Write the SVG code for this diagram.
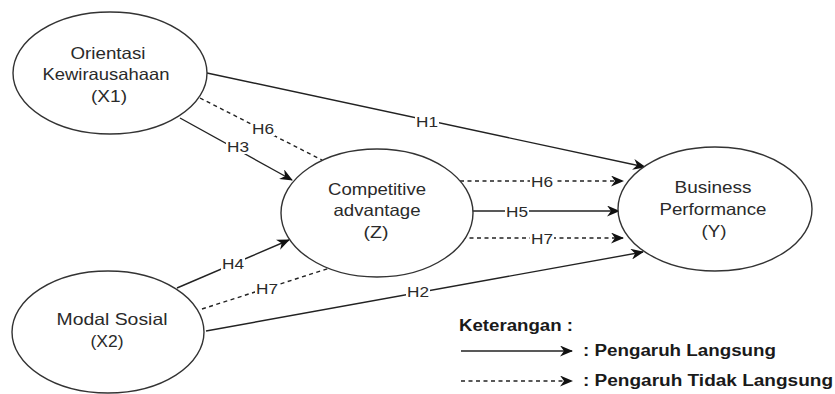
<svg xmlns="http://www.w3.org/2000/svg" width="835" height="394" viewBox="0 0 835 394">
<style>
.node ellipse{fill:#fff;stroke:#333;stroke-width:1.4}
.nt{font-family:"Liberation Sans",Arial,sans-serif;font-size:16.5px;fill:#2a2a2a;text-anchor:middle}
.el{font-family:"Liberation Sans",Arial,sans-serif;font-size:15px;fill:#2a2a2a;text-anchor:middle}
.lb{fill:#fff}
.ln{fill:none;stroke:#222;stroke-width:1.4}
.ds{stroke-dasharray:4 3.5}
.lg{font-family:"Liberation Sans",Arial,sans-serif;font-size:16px;font-weight:bold;fill:#1a1a1a}
</style>
<defs>
<marker id="ah" markerUnits="userSpaceOnUse" markerWidth="13" markerHeight="11" refX="12" refY="5.5" orient="auto" viewBox="0 0 13 11">
<path d="M0,0 L13,5.5 L0,11 L4,5.5 z" fill="#111"/>
</marker>
</defs>
<rect width="835" height="394" fill="#fff"/>
<g id="connectors">
<line class="ln" x1="207" y1="73" x2="645" y2="167" marker-end="url(#ah)"/>
<line class="ln ds" x1="200" y1="98" x2="322" y2="160"/>
<line class="ln" x1="180" y1="118" x2="292" y2="180" marker-end="url(#ah)"/>
<line class="ln ds" x1="460" y1="181" x2="623" y2="181" marker-end="url(#ah)"/>
<line class="ln" x1="473" y1="211" x2="619" y2="211" marker-end="url(#ah)"/>
<line class="ln ds" x1="462" y1="238" x2="623" y2="238" marker-end="url(#ah)"/>
<line class="ln" x1="206" y1="331" x2="643" y2="252" marker-end="url(#ah)"/>
<line class="ln" x1="177" y1="288" x2="289" y2="240" marker-end="url(#ah)"/>
<line class="ln ds" x1="202" y1="309" x2="333" y2="267"/>
<g id="edge-labels">
<rect class="lb" x="415" y="114" width="24" height="15"/><text class="el" x="427" y="127" textLength="22" lengthAdjust="spacingAndGlyphs">H1</text>
<rect class="lb" x="251" y="121" width="24" height="15"/><text class="el" x="263" y="134" textLength="22" lengthAdjust="spacingAndGlyphs">H6</text>
<rect class="lb" x="226" y="139" width="24" height="15"/><text class="el" x="238" y="152" textLength="22" lengthAdjust="spacingAndGlyphs">H3</text>
<rect class="lb" x="530" y="174" width="24" height="15"/><text class="el" x="542" y="187" textLength="22" lengthAdjust="spacingAndGlyphs">H6</text>
<rect class="lb" x="505" y="204" width="24" height="15"/><text class="el" x="517" y="217" textLength="22" lengthAdjust="spacingAndGlyphs">H5</text>
<rect class="lb" x="530" y="231" width="24" height="15"/><text class="el" x="542" y="244" textLength="22" lengthAdjust="spacingAndGlyphs">H7</text>
<rect class="lb" x="406" y="284" width="24" height="15"/><text class="el" x="418" y="297" textLength="22" lengthAdjust="spacingAndGlyphs">H2</text>
<rect class="lb" x="221" y="256" width="24" height="15"/><text class="el" x="233" y="269" textLength="22" lengthAdjust="spacingAndGlyphs">H4</text>
<rect class="lb" x="255" y="281" width="24" height="15"/><text class="el" x="267" y="294" textLength="22" lengthAdjust="spacingAndGlyphs">H7</text>
</g>
</g>
<g id="X1" class="node">
<ellipse cx="110" cy="73" rx="97" ry="61"/>
<text class="nt" x="108" y="59" textLength="75" lengthAdjust="spacingAndGlyphs">Orientasi</text>
<text class="nt" x="106" y="80" textLength="127" lengthAdjust="spacingAndGlyphs">Kewirausahaan</text>
<text class="nt" x="109" y="102" textLength="36" lengthAdjust="spacingAndGlyphs">(X1)</text>
</g>
<g id="Z" class="node">
<ellipse cx="377" cy="213" rx="96" ry="64"/>
<text class="nt" x="377" y="195" textLength="98" lengthAdjust="spacingAndGlyphs">Competitive</text>
<text class="nt" x="377" y="216" textLength="87" lengthAdjust="spacingAndGlyphs">advantage</text>
<text class="nt" x="376" y="238" textLength="25" lengthAdjust="spacingAndGlyphs">(Z)</text>
</g>
<g id="Y" class="node">
<ellipse cx="715" cy="209" rx="97" ry="62"/>
<text class="nt" x="713" y="193" textLength="77" lengthAdjust="spacingAndGlyphs">Business</text>
<text class="nt" x="713" y="215" textLength="107" lengthAdjust="spacingAndGlyphs">Performance</text>
<text class="nt" x="714" y="237" textLength="25" lengthAdjust="spacingAndGlyphs">(Y)</text>
</g>
<g id="X2" class="node">
<ellipse cx="108" cy="332" rx="96" ry="61"/>
<text class="nt" x="112" y="325" textLength="111" lengthAdjust="spacingAndGlyphs">Modal Sosial</text>
<text class="nt" x="107" y="347" textLength="33" lengthAdjust="spacingAndGlyphs">(X2)</text>
</g>
<g id="legend">
<text class="lg" x="459" y="331" textLength="114" lengthAdjust="spacingAndGlyphs">Keterangan :</text>
<line class="ln" x1="461" y1="351" x2="572" y2="351" marker-end="url(#ah)"/>
<text class="lg" x="583" y="356" textLength="193" lengthAdjust="spacingAndGlyphs">: Pengaruh Langsung</text>
<line class="ln ds" x1="461" y1="381" x2="572" y2="381" marker-end="url(#ah)"/>
<text class="lg" x="583" y="386" textLength="250" lengthAdjust="spacingAndGlyphs">: Pengaruh Tidak Langsung</text>
</g>
</svg>
